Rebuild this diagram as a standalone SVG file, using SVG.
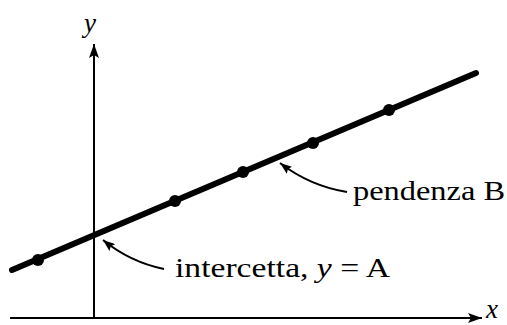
<svg xmlns="http://www.w3.org/2000/svg" width="507" height="325" viewBox="0 0 507 325">
<defs>
<style>
.axis{stroke:#000;stroke-width:2;fill:none}
.line{stroke:#000;stroke-width:6;stroke-linecap:round;fill:none}
.dot{fill:#000}
.lead{stroke:#000;stroke-width:2;fill:none}
.lbl{font-family:"Liberation Serif","Times New Roman",serif;font-size:28px;fill:#000}
.var{font-family:"Liberation Serif","Times New Roman",serif;font-style:italic;font-size:27px;fill:#000}
</style>
<marker id="ah" viewBox="0 0 12 9" refX="12" refY="4.5" markerWidth="12" markerHeight="9" markerUnits="userSpaceOnUse" orient="auto">
<path d="M0,0 L12,4.5 L0,9 L2,4.5 Z" fill="#000"/>
</marker>
<marker id="ax" viewBox="0 0 14 10" refX="14" refY="5" markerWidth="14" markerHeight="10" markerUnits="userSpaceOnUse" orient="auto">
<path d="M0,0 L14,5 L0,10 L3,5 Z" fill="#000"/>
</marker>
</defs>
<g id="axes">
<line class="axis" x1="10" y1="318" x2="482" y2="318" marker-end="url(#ax)"/>
<line class="axis" x1="94" y1="319" x2="94" y2="44" marker-end="url(#ax)"/>
<text class="var" x="84" y="32">y</text>
<text class="var" x="486" y="318" font-size="25">x</text>
</g>
<g id="regression-line">
<line class="line" x1="12" y1="270" x2="476" y2="73"/>
<circle class="dot" cx="38" cy="260" r="6"/>
<circle class="dot" cx="175" cy="201" r="6"/>
<circle class="dot" cx="243" cy="172" r="6"/>
<circle class="dot" cx="313" cy="143" r="6"/>
<circle class="dot" cx="389" cy="110" r="6"/>
</g>
<g id="connectors">
<path class="lead" d="M164,269 Q130,262 103,240" marker-end="url(#ah)"/>
<path class="lead" d="M347,192 Q310,186 280,163" marker-end="url(#ah)"/>
</g>
<g id="label-intercept">
<text class="lbl" x="175" y="277" textLength="215" lengthAdjust="spacingAndGlyphs">intercetta, <tspan font-style="italic">y</tspan> = A</text>
</g>
<g id="label-slope">
<text class="lbl" x="353" y="200" textLength="152" lengthAdjust="spacingAndGlyphs">pendenza B</text>
</g>
</svg>
